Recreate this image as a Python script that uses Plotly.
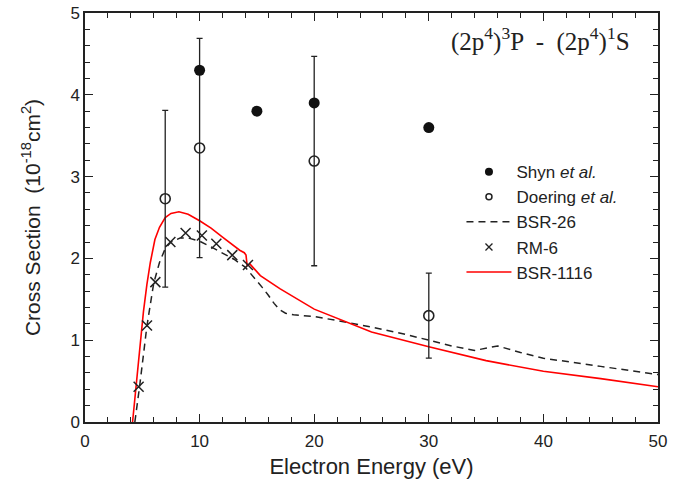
import plotly.graph_objects as go

# Experimental data
shyn_x = [10, 15, 20, 30]
shyn_y = [4.30, 3.80, 3.90, 3.60]

doering_x = [7, 10, 20, 30]
doering_y = [2.73, 3.35, 3.19, 1.30]
doering_err = [1.08, 1.34, 1.28, 0.52]

# RM-6 calculation
rm6_x = [4.68, 5.41, 6.14, 7.45, 8.78, 10.2, 11.46, 12.85, 14.22]
rm6_y = [0.43, 1.18, 1.71, 2.20, 2.31, 2.28, 2.18, 2.04, 1.92]

# BSR-26 calculation
bsr26_x = [4.35, 4.77, 5.4, 6.0, 6.5, 7.0, 7.5, 8.3, 9.0, 10.0, 11.0, 12.0, 13.0,
           14.0, 15.0, 15.5, 16.0, 16.5, 17.0, 17.5, 18.2, 20.0, 22.0, 25.0, 28.0,
           30.0, 32.0, 34.0, 36.0, 38.0, 40.0, 45.0, 50.0]
bsr26_y = [0.0, 0.44, 1.17, 1.70, 1.95, 2.12, 2.20, 2.25, 2.25, 2.21, 2.14, 2.06, 1.99,
           1.89, 1.73, 1.64, 1.55, 1.45, 1.37, 1.33, 1.31, 1.29, 1.24, 1.16, 1.07,
           1.00, 0.93, 0.875, 0.93, 0.85, 0.78, 0.68, 0.58]

# BSR-1116 calculation
bsr1116_x = [4.15, 4.3, 4.5, 4.8, 5.1, 5.4, 5.7, 6.1, 6.5, 7.0, 7.5, 8.2, 9.0, 10.0,
             11.0, 12.0, 13.0, 13.5, 13.9, 14.05, 14.15, 14.4, 15.3, 17.0, 20.0,
             22.5, 25.0, 30.0, 35.0, 40.0, 45.0, 50.0]
bsr1116_y = [0.0, 0.22, 0.52, 0.95, 1.35, 1.68, 1.95, 2.23, 2.38, 2.50, 2.55, 2.57,
             2.54, 2.46, 2.37, 2.26, 2.15, 2.10, 2.07, 2.04, 1.91, 1.93, 1.79, 1.63,
             1.38, 1.24, 1.10, 0.92, 0.75, 0.62, 0.53, 0.43]

x_ticks = [0, 10, 20, 30, 40, 50]
y_ticks = [0, 1, 2, 3, 4, 5]

SANS = "Liberation Sans, Arial, sans-serif"
SERIF = "Liberation Serif, Times New Roman, serif"
INK = "#222222"

fig = go.Figure()

fig.add_trace(go.Scatter(
    x=bsr26_x, y=bsr26_y, mode="lines",
    line=dict(color=INK, width=1.5, dash="7px,5px"), showlegend=False))
fig.add_trace(go.Scatter(
    x=bsr1116_x, y=bsr1116_y, mode="lines",
    line=dict(color="#ff0000", width=1.6), showlegend=False))
fig.add_trace(go.Scatter(
    x=rm6_x, y=rm6_y, mode="markers",
    marker=dict(symbol="x-thin", size=10, line=dict(color=INK, width=1.5)),
    showlegend=False))
fig.add_trace(go.Scatter(
    x=doering_x, y=doering_y, mode="markers",
    error_y=dict(type="data", array=doering_err, color=INK, thickness=1.3, width=3),
    marker=dict(symbol="circle-open", size=10, color=INK, line=dict(width=1.6)),
    showlegend=False))
fig.add_trace(go.Scatter(
    x=shyn_x, y=shyn_y, mode="markers",
    marker=dict(symbol="circle", size=11, color="#111111"), showlegend=False))

# Legend entries
legend_entries = [
    ("Shyn <i>et al.</i>", dict(mode="markers", marker=dict(symbol="circle", size=8, color="#111111"))),
    ("Doering <i>et al.</i>", dict(mode="markers", marker=dict(symbol="circle-open", size=6, color=INK, line=dict(width=1.5)))),
    ("BSR-26", dict(mode="lines", line=dict(color=INK, width=1.5, dash="7px,5px"))),
    ("RM-6", dict(mode="markers", marker=dict(symbol="x-thin", size=7, line=dict(color=INK, width=1.3)))),
    ("BSR-1116", dict(mode="lines", line=dict(color="#ff0000", width=1.6))),
]
for name, style in legend_entries:
    fig.add_trace(go.Scatter(x=[None], y=[None], name=name, showlegend=True, **style))

axis_common = dict(
    showgrid=False, zeroline=False, showline=True, linecolor=INK, linewidth=1.5,
    mirror="allticks", ticks="inside", ticklen=8, tickwidth=1.2, tickcolor=INK,
    tickfont=dict(family=SANS, size=17, color=INK), automargin=False,
)

fig.update_xaxes(
    range=[0, 50], tickvals=x_ticks, ticktext=[str(v) for v in x_ticks],
    minor=dict(dtick=2, ticks="inside", ticklen=5, tickwidth=1.1, tickcolor=INK),
    ticklabelstandoff=3,
    title=dict(text="Electron Energy (eV)", font=dict(family=SANS, size=22, color=INK), standoff=8),
    **axis_common)
fig.update_yaxes(
    range=[0, 5], tickvals=y_ticks, ticktext=[str(v) for v in y_ticks],
    minor=dict(dtick=0.2, ticks="inside", ticklen=5, tickwidth=1.1, tickcolor=INK),
    title=dict(text="Cross Section  (10<sup>-18</sup>cm<sup>2</sup>)",
               font=dict(family=SANS, size=21, color=INK), standoff=24),
    **axis_common)

fig.add_annotation(
    x=0.955, y=0.935, xref="paper", yref="paper", xanchor="right", yanchor="middle",
    text="(2p<sup>4</sup>)<sup>3</sup>P  -  (2p<sup>4</sup>)<sup>1</sup>S",
    showarrow=False, font=dict(family=SERIF, size=25, color=INK))

fig.update_layout(
    width=680, height=483,
    margin=dict(l=85, r=22, t=13, b=61),
    plot_bgcolor="white", paper_bgcolor="white",
    showlegend=True,
    legend=dict(x=0.657, y=0.655, xanchor="left", yanchor="top",
                bgcolor="rgba(0,0,0,0)", itemwidth=45,
                font=dict(family=SANS, size=17, color=INK),
                tracegroupgap=0),
)

fig.write_html("out.html")
